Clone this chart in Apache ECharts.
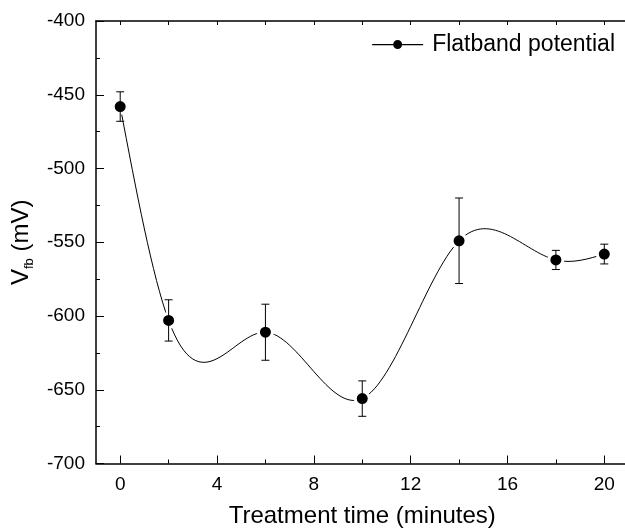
<!DOCTYPE html>
<html>
<head>
<meta charset="utf-8">
<script src="https://cdn.jsdelivr.net/npm/echarts@6/dist/echarts.min.js"></script>
<style>
  html, body { margin: 0; padding: 0; background: #fff; }
  #chart { width: 625px; height: 528px; }
</style>
</head>
<body>
<div id="chart"></div>
<script>
// treatment time (minutes) and flatband potential (mV)
const times = [0, 2, 6, 10, 14, 18, 20]
const vfb = [-458, -603, -611, -656, -549, -562, -558]
const errs = [10, 14, 19, 12, 29, 6.5, 6.7]
const majorTicks = [0, 4, 8, 12, 16, 20]
const minorTicks = [2, 6, 10, 14, 18]
const topTicks = [0, 2, 4, 6, 8, 10, 12, 14, 16, 18, 20]

const font = 'Liberation Sans, Arial, sans-serif'

const chart = echarts.init(document.getElementById('chart'))

const points = times.map((t, i) => [t, vfb[i]])
const errData = times.map((t, i) => [t, vfb[i] - errs[i], vfb[i] + errs[i]])

// natural cubic spline through the points (the connector in the original plot),
// drawn as bezier segments through the axis scales
function splineSlopes (xs, ys) {
  const n = xs.length
  const h = []
  for (let i = 0; i < n - 1; i++) h.push(xs[i + 1] - xs[i])
  // tridiagonal system for second derivatives, M[0] = M[n-1] = 0
  const a = [], b = [], c = [], d = []
  for (let i = 1; i < n - 1; i++) {
    a.push(h[i - 1])
    b.push(2 * (h[i - 1] + h[i]))
    c.push(h[i])
    d.push(6 * ((ys[i + 1] - ys[i]) / h[i] - (ys[i] - ys[i - 1]) / h[i - 1]))
  }
  const m = d.length
  for (let i = 1; i < m; i++) {
    const w = a[i] / b[i - 1]
    b[i] -= w * c[i - 1]
    d[i] -= w * d[i - 1]
  }
  const inner = new Array(m)
  for (let i = m - 1; i >= 0; i--) {
    inner[i] = (d[i] - (i < m - 1 ? c[i] * inner[i + 1] : 0)) / b[i]
  }
  const M = [0].concat(inner, [0])
  const segs = []
  for (let i = 0; i < n - 1; i++) {
    const s = (ys[i + 1] - ys[i]) / h[i]
    segs.push({
      m0: s - h[i] * (2 * M[i] + M[i + 1]) / 6,
      m1: s + h[i] * (M[i] + 2 * M[i + 1]) / 6
    })
  }
  return segs
}
const segs = splineSlopes(times, vfb)

const xBase = {
  type: 'value',
  min: -1,
  max: 21,
  gridIndex: 0,
  splitLine: { show: false },
  axisLine: { show: true, onZero: false, lineStyle: { color: '#000', width: 1.5 } }
}

const option = {
  animation: false,
  backgroundColor: '#fff',
  grid: { left: 96, top: 21, right: -3.5, bottom: 64.5, containLabel: false, outerBoundsMode: 'none' },
  legend: {
    data: [{
      name: 'Flatband potential',
      icon: 'path://M0,5h21v1.3h-21z M30,5h21v1.3h-21z M21,5.6a4.5,4.5 0 1,0 9,0a4.5,4.5 0 1,0 -9,0z'
    }],
    right: 5,
    top: 28,
    itemWidth: 51,
    itemHeight: 9,
    itemStyle: { color: '#000', borderWidth: 0 },
    textStyle: { fontFamily: font, fontSize: 23, color: '#000', padding: [0, 0, 0, 4] }
  },
  xAxis: [
    Object.assign({}, xBase, {
      position: 'bottom',
      name: 'Treatment time (minutes)',
      nameLocation: 'middle',
      nameGap: 41,
      nameTextStyle: { fontFamily: font, fontSize: 24, color: '#000' },
      axisTick: { inside: true, length: 8, customValues: majorTicks, lineStyle: { color: '#000' } },
      axisLabel: { customValues: majorTicks, margin: 12, fontFamily: font, fontSize: 19, color: '#000' }
    }),
    Object.assign({}, xBase, {
      position: 'bottom',
      axisLine: { show: false, onZero: false },
      axisTick: { inside: true, length: 4, customValues: minorTicks, lineStyle: { color: '#000' } },
      axisLabel: { show: false }
    }),
    Object.assign({}, xBase, {
      position: 'top',
      axisTick: { inside: true, length: 4, customValues: topTicks, lineStyle: { color: '#000' } },
      axisLabel: { show: false }
    })
  ],
  yAxis: {
    type: 'value',
    min: -700,
    max: -400,
    interval: 50,
    name: '{v|V}{s|fb}{v| (mV)}',
    nameLocation: 'middle',
    nameGap: 60,
    nameTextStyle: {
      fontFamily: font,
      color: '#000',
      rich: {
        v: { fontFamily: font, fontSize: 24, color: '#000', lineHeight: 30, verticalAlign: 'middle' },
        s: { fontFamily: font, fontSize: 13, color: '#000', lineHeight: 30, verticalAlign: 'bottom' }
      }
    },
    splitLine: { show: false },
    axisLine: { show: true, onZero: false, lineStyle: { color: '#000', width: 1.5 } },
    axisTick: { inside: true, length: 8, lineStyle: { color: '#000' } },
    minorTick: { show: true, splitNumber: 2, length: 4, lineStyle: { color: '#000' } },
    axisLabel: { margin: 11, fontFamily: font, fontSize: 19, color: '#000' }
  },
  series: [
    {
      name: 'spline',
      type: 'custom',
      data: points,
      z: 1,
      silent: true,
      renderItem: function (params, api) {
        const i = params.dataIndex
        if (i >= times.length - 1) return null
        const x0 = times[i], x1 = times[i + 1]
        const h = x1 - x0
        const p0 = api.coord([x0, vfb[i]])
        const p1 = api.coord([x1, vfb[i + 1]])
        const c0 = api.coord([x0 + h / 3, vfb[i] + segs[i].m0 * h / 3])
        const c1 = api.coord([x1 - h / 3, vfb[i + 1] - segs[i].m1 * h / 3])
        return {
          type: 'bezierCurve',
          shape: { x1: p0[0], y1: p0[1], x2: p1[0], y2: p1[1], cpx1: c0[0], cpy1: c0[1], cpx2: c1[0], cpy2: c1[1] },
          style: { stroke: '#000', fill: null, lineWidth: 1 }
        }
      }
    },
    {
      name: 'Flatband potential',
      type: 'scatter',
      data: points,
      z: 2,
      symbol: 'circle',
      symbolSize: 14,
      itemStyle: { color: '#000', borderColor: '#fff', borderWidth: 3, opacity: 1 }
    },
    {
      name: 'error',
      type: 'custom',
      data: errData,
      z: 3,
      silent: true,
      renderItem: function (params, api) {
        const x = api.value(0)
        const top = api.coord([x, api.value(2)])
        const bot = api.coord([x, api.value(1)])
        const w = 4
        const style = { stroke: '#000', lineWidth: 1 }
        return {
          type: 'group',
          children: [
            { type: 'line', shape: { x1: top[0], y1: top[1], x2: bot[0], y2: bot[1] }, style: style },
            { type: 'line', shape: { x1: top[0] - w, y1: top[1], x2: top[0] + w, y2: top[1] }, style: style },
            { type: 'line', shape: { x1: bot[0] - w, y1: bot[1], x2: bot[0] + w, y2: bot[1] }, style: style }
          ]
        }
      }
    }
  ]
}

chart.setOption(option)
</script>
</body>
</html>
